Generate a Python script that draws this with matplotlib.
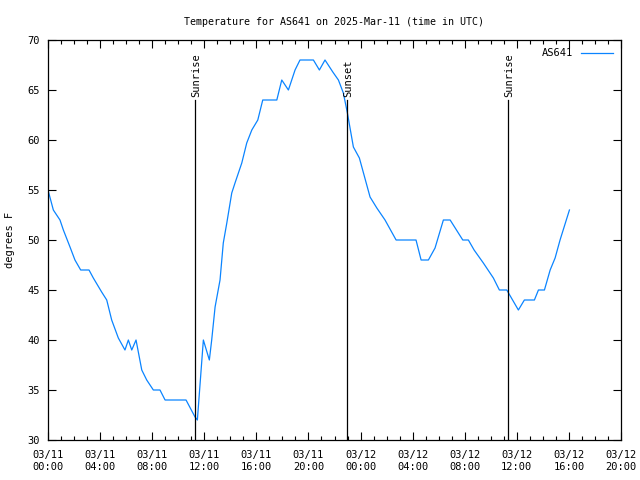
import matplotlib
matplotlib.use('Agg')
import matplotlib.pyplot as plt
from matplotlib.ticker import MultipleLocator

# hours since 2025-03-11 00:00 UTC
hours = [0.00, 0.41, 0.92, 1.18, 1.69, 2.07, 2.51, 3.15, 3.48, 4.12,
         4.51, 4.89, 5.40, 5.91, 6.17, 6.43, 6.76, 7.20, 7.58, 8.09,
         8.60, 8.99, 10.60, 11.29, 11.47, 11.93, 12.39, 12.57, 12.83, 13.21,
         13.46, 13.73, 14.11, 14.36, 14.88, 15.26, 15.65, 16.11, 16.49, 17.57,
         17.95, 18.46, 18.97, 19.35, 20.38, 20.84, 21.27, 21.87, 22.30, 22.68,
         22.99, 23.45, 23.91, 24.73, 25.25, 25.88, 26.73, 28.26, 28.65, 29.21,
         29.72, 30.36, 30.88, 31.85, 32.28, 32.72, 33.43, 34.20, 34.66, 35.23,
         36.12, 36.58, 37.35, 37.66, 38.12, 38.56, 38.94, 39.32, 40.04]
temps = [55, 53, 52, 51, 49.3, 48, 47, 47, 46.2, 44.8,
         44, 42, 40.2, 39, 40, 39, 40, 37, 36, 35,
         35, 34, 34, 32.3, 32, 40, 38, 40, 43.3, 46,
         49.7, 51.7, 54.7, 55.7, 57.7, 59.7, 61, 62, 64, 64,
         66, 65, 67, 68, 68, 67, 68, 66.8, 66, 64.7,
         62.7, 59.3, 58.2, 54.3, 53.2, 52, 50, 50, 48, 48,
         49.2, 52, 52, 50, 50, 49, 47.7, 46.2, 45, 45,
         43, 44, 44, 45, 45, 47, 48.2, 50, 53]

sun_times = [11.29, 22.96, 35.33]
sun_labels = ['Sunrise', 'Sunset', 'Sunrise']

tick_hours = list(range(0, 45, 4))
tick_labels = ['03/11\n00:00', '03/11\n04:00', '03/11\n08:00', '03/11\n12:00',
               '03/11\n16:00', '03/11\n20:00', '03/12\n00:00', '03/12\n04:00',
               '03/12\n08:00', '03/12\n12:00', '03/12\n16:00', '03/12\n20:00']

plt.rcParams['font.family'] = 'DejaVu Sans Mono'
plt.rcParams['font.size'] = 7.5

fig = plt.figure(figsize=(6.4, 4.8), dpi=100)
ax = fig.add_axes([48/640, 40/480, 573/640, 400/480])

ax.plot(hours, temps, color='#0a84ff', linewidth=0.9, label='AS641')

for t, lab in zip(sun_times, sun_labels):
    ax.plot([t, t], [30, 64], color='black', linewidth=0.9)
    ax.text(t + 0.1, 64.3, lab, rotation=90, ha='center', va='bottom')

ax.set_xlim(0, 44)
ax.set_ylim(30, 70)
ax.set_xticks(tick_hours)
ax.set_xticklabels(tick_labels, linespacing=1.3)
ax.xaxis.set_minor_locator(MultipleLocator(1))
ax.yaxis.set_major_locator(MultipleLocator(5))
ax.tick_params(which='both', direction='in', top=True, right=True, width=0.8)
ax.tick_params(which='major', length=6)
ax.tick_params(axis='x', which='major', pad=7)
ax.tick_params(axis='y', which='major', pad=6)
ax.tick_params(which='minor', length=3)
for s in ax.spines.values():
    s.set_linewidth(0.9)

ax.set_title('Temperature for AS641 on 2025-Mar-11 (time in UTC)', fontsize=7.2, pad=11)
ax.set_ylabel('degrees F')
ax.yaxis.set_label_coords(-0.058, 0.5)
leg = ax.legend(loc='upper right', frameon=False, handlelength=3.0,
                markerfirst=False, borderaxespad=0.4)

fig.savefig('out.png', dpi=100)
